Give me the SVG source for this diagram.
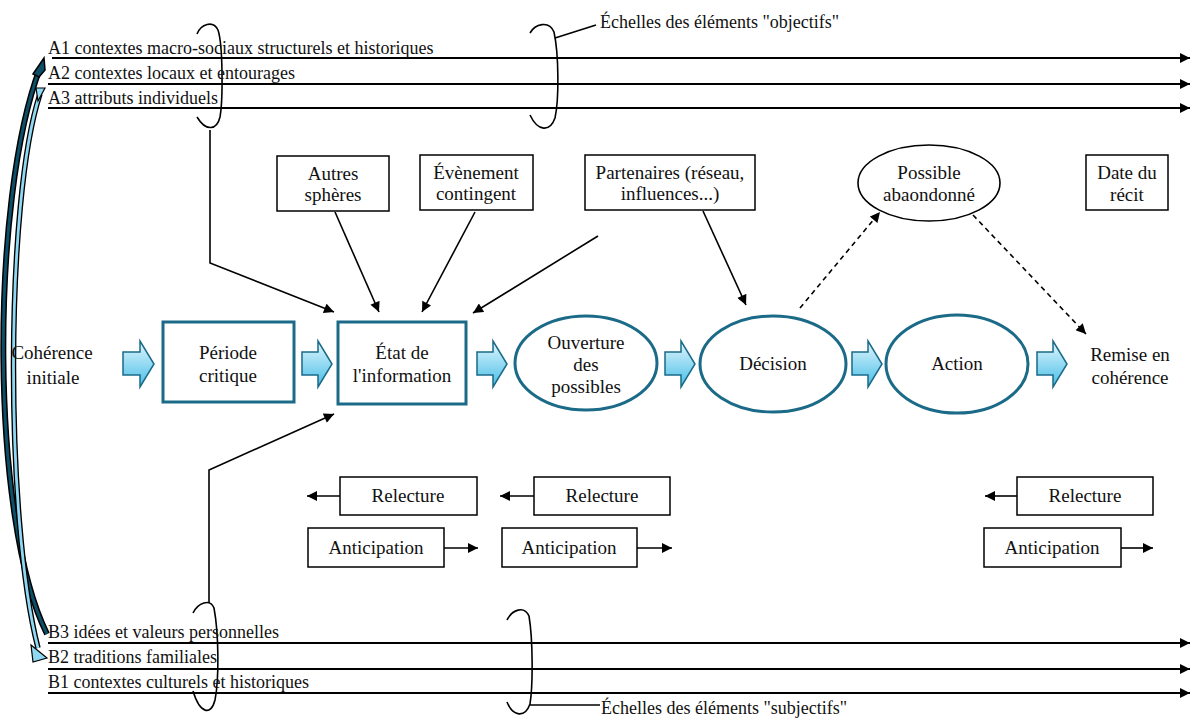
<svg xmlns="http://www.w3.org/2000/svg" width="1190" height="718" viewBox="0 0 1190 718">
<defs>
<linearGradient id="gblue" x1="0" y1="0" x2="0" y2="1">
<stop offset="0" stop-color="#e3f7fd"/>
<stop offset="1" stop-color="#46bde6"/>
</linearGradient>
<marker id="ah" viewBox="0 0 10 10" refX="10" refY="5" markerWidth="11" markerHeight="10" markerUnits="userSpaceOnUse" orient="auto">
<path d="M0,0 L10,5 L0,10 z" fill="#000"/>
</marker>
<style>
.lbl{font-size:18px;}
.nt{font-size:19px;text-anchor:middle;}
.box{fill:#fff;stroke:#000;stroke-width:1.5;}
.tbox{fill:#fff;stroke:#1a6a88;stroke-width:3;}
.tell{fill:#fff;stroke:#1a6a88;stroke-width:3;}
.barrow{fill:url(#gblue);stroke:#1a6a88;stroke-width:1.5;}
.ln{fill:none;stroke:#000;stroke-width:1.6;}
.arr{fill:none;stroke:#000;stroke-width:1.6;marker-end:url(#ah);}
.dash{fill:none;stroke:#000;stroke-width:1.6;stroke-dasharray:5,4;marker-end:url(#ah);}
.hl{fill:none;stroke:#000;stroke-width:2.2;marker-end:url(#ah);}
</style>
</defs>
<rect width="1190" height="718" fill="#fff"/>

<g id="connectors">
<line class="hl" x1="52" y1="58" x2="1190" y2="58"/>
<line class="hl" x1="48" y1="84" x2="1190" y2="84"/>
<line class="hl" x1="48" y1="108" x2="1190" y2="108"/>
<line class="hl" x1="48" y1="643" x2="1190" y2="643"/>
<line class="hl" x1="48" y1="669" x2="1190" y2="669"/>
<line class="hl" x1="48" y1="693" x2="1190" y2="693"/>
<path class="ln" d="M197 34 C201 24 213 20 218 30 C223 45 223 100 220 117 C217 130 206 132 197 117"/>
<path class="ln" d="M530 33 C535 24 549 20 554 32 C559 55 559 100 555 118 C550 132 538 132 530 115"/>
<line class="ln" x1="555" y1="38" x2="596" y2="25"/>
<path class="ln" d="M193 613 C198 603 210 598 214 608 C219 635 219 680 215 700 C211 716 200 714 193 691"/>
<path class="ln" d="M507 620 C512 610 524 605 529 616 C533 640 533 685 530 704 C525 718 513 717 507 702"/>
<line class="ln" x1="530" y1="705" x2="600" y2="705"/>
<polyline class="arr" points="210,130 210,263 334,312"/>
<polyline class="arr" points="209,603 209,470 334,414"/>
<line class="arr" x1="335" y1="212" x2="379" y2="312"/>
<line class="arr" x1="475" y1="212" x2="422" y2="312"/>
<line class="arr" x1="598" y1="236" x2="473" y2="313"/>
<line class="arr" x1="703" y1="211" x2="746" y2="305"/>
<line class="dash" x1="800" y1="308" x2="880" y2="212"/>
<line class="dash" x1="973" y1="215" x2="1086" y2="334"/>
<line class="arr" x1="340" y1="496" x2="307" y2="496"/>
<line class="arr" x1="534" y1="496" x2="500" y2="496"/>
<line class="arr" x1="1017" y1="496" x2="985" y2="496"/>
<line class="arr" x1="444" y1="548" x2="478" y2="548"/>
<line class="arr" x1="637" y1="548" x2="672" y2="548"/>
<line class="arr" x1="1121" y1="548" x2="1153" y2="548"/>
<path d="M47 634 C-10 520 -10 200 40 68" fill="none" stroke="#000" stroke-width="6"/>
<path d="M47 634 C-10 520 -10 200 40 68" fill="none" stroke="#0d4f68" stroke-width="3"/>
<path d="M33 74 L44 58 L45 70 L39 77 Z" fill="#0d4f68" stroke="#000" stroke-width="1.5"/>
<path d="M40 94 C5 200 5 520 38 648" fill="none" stroke="#000" stroke-width="5.5"/>
<path d="M40 94 C5 200 5 520 38 648" fill="none" stroke="#8fd8f4" stroke-width="2.8"/>
<path d="M36 88 L45 88 L38 101 Z" fill="#8fd8f4" stroke="#000" stroke-width="1.2"/>
<path d="M31 645 L47 658 L33 662 Z" fill="#8fd8f4" stroke="#000" stroke-width="1.2"/>
<path class="barrow" d="M123 352 H140 V341 L154 364 L140 387 V375 H123 Z"/>
<path class="barrow" d="M302 352 H318 V341 L332 364 L318 387 V375 H302 Z"/>
<path class="barrow" d="M477 352 H493 V341 L507 364 L493 387 V375 H477 Z"/>
<path class="barrow" d="M665 352 H681 V341 L695 364 L681 387 V375 H665 Z"/>
<path class="barrow" d="M852 352 H868 V341 L882 364 L868 387 V375 H852 Z"/>
<path class="barrow" d="M1037 352 H1053 V341 L1067 364 L1053 387 V375 H1037 Z"/>
</g>

<g font-family="Liberation Serif, Times New Roman, DejaVu Serif, serif" fill="#111">
<g id="scales">
<text class="lbl" x="48" y="54">A1 contextes macro-sociaux structurels et historiques</text>
<text class="lbl" x="48" y="79">A2 contextes locaux et entourages</text>
<text class="lbl" x="48" y="104">A3 attributs individuels</text>
<text class="lbl" x="48" y="638">B3 idées et valeurs personnelles</text>
<text class="lbl" x="48" y="663">B2 traditions familiales</text>
<text class="lbl" x="48" y="688">B1 contextes culturels et historiques</text>
<text class="lbl" x="600" y="28">Échelles des éléments "objectifs"</text>
<text class="lbl" x="601" y="714">Échelles des éléments "subjectifs"</text>
</g>
<g id="coherence-initiale">
<text class="nt" x="52" y="359">Cohérence</text>
<text class="nt" x="53" y="384">initiale</text>
</g>
<g id="periode-critique">
<rect class="tbox" x="163" y="322" width="131" height="80"/>
<text class="nt" x="228" y="359">Période</text>
<text class="nt" x="228" y="382">critique</text>
</g>
<g id="etat-information">
<rect class="tbox" x="338" y="322" width="128" height="82" stroke-width="4"/>
<text class="nt" x="402" y="359">État de</text>
<text class="nt" x="402" y="382">l'information</text>
</g>
<g id="ouverture">
<ellipse class="tell" cx="586" cy="363" rx="71" ry="47"/>
<text class="nt" x="586" y="349">Ouverture</text>
<text class="nt" x="586" y="371">des</text>
<text class="nt" x="586" y="393">possibles</text>
</g>
<g id="decision">
<ellipse class="tell" cx="773" cy="364" rx="73" ry="48" stroke-width="4"/>
<text class="nt" x="773" y="370">Décision</text>
</g>
<g id="action">
<ellipse class="tell" cx="957" cy="364" rx="71" ry="49" stroke-width="4"/>
<text class="nt" x="957" y="370">Action</text>
</g>
<g id="remise">
<text class="nt" x="1130" y="361">Remise en</text>
<text class="nt" x="1130" y="384">cohérence</text>
</g>
<g id="autres-spheres">
<rect class="box" x="277" y="156" width="112" height="55"/>
<text class="nt" x="333" y="180">Autres</text>
<text class="nt" x="333" y="201">sphères</text>
</g>
<g id="evenement">
<rect class="box" x="420" y="155" width="113" height="55"/>
<text class="nt" x="476" y="179">Évènement</text>
<text class="nt" x="476" y="200">contingent</text>
</g>
<g id="partenaires">
<rect class="box" x="585" y="155" width="170" height="55"/>
<text class="nt" x="670" y="179">Partenaires (réseau,</text>
<text class="nt" x="670" y="200">influences...)</text>
</g>
<g id="possible-abandonne">
<ellipse cx="929" cy="183" rx="71" ry="38" fill="#fff" stroke="#000" stroke-width="1.6"/>
<text class="nt" x="929" y="179">Possible</text>
<text class="nt" x="929" y="201">abaondonné</text>
</g>
<g id="date-recit">
<rect class="box" x="1086" y="155" width="82" height="55"/>
<text class="nt" x="1127" y="179">Date du</text>
<text class="nt" x="1127" y="201">récit</text>
</g>
<g id="relecture-1"><rect class="box" x="340" y="477" width="137" height="38"/><text class="nt" x="408" y="502">Relecture</text></g>
<g id="relecture-2"><rect class="box" x="534" y="477" width="136" height="38"/><text class="nt" x="602" y="502">Relecture</text></g>
<g id="relecture-3"><rect class="box" x="1017" y="477" width="136" height="38"/><text class="nt" x="1085" y="502">Relecture</text></g>
<g id="anticipation-1"><rect class="box" x="308" y="528" width="136" height="39"/><text class="nt" x="376" y="554">Anticipation</text></g>
<g id="anticipation-2"><rect class="box" x="502" y="528" width="135" height="39"/><text class="nt" x="569" y="554">Anticipation</text></g>
<g id="anticipation-3"><rect class="box" x="984" y="528" width="137" height="39"/><text class="nt" x="1052" y="554">Anticipation</text></g>
</g>
</svg>
